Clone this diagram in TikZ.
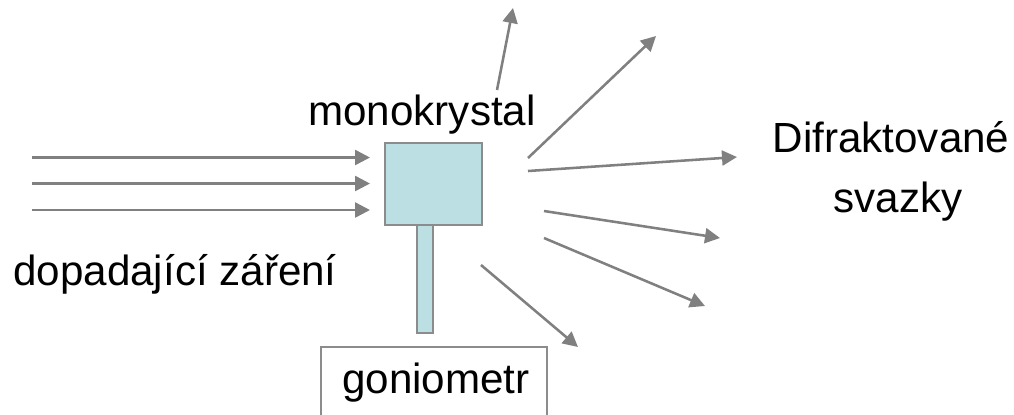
\documentclass[tikz,border=0pt]{standalone}
\usepackage{fontspec}
\setmainfont{Liberation Sans}
\usetikzlibrary{arrows.meta}
\definecolor{ray}{HTML}{808080}
\definecolor{frame}{HTML}{8C8C8C}
\definecolor{crystalfill}{HTML}{BBDFE2}
\tikzset{
  beam/.style={draw=ray, line width=1.45pt, -{Triangle[length=0.3cm,width=0.3cm]}},
  partbox/.style={draw=frame, line width=1.6pt, fill=crystalfill, inner sep=0pt},
  label/.style={font=\fontsize{24}{28}\selectfont, text=black, inner sep=0pt, anchor=base}
}
\begin{document}
\begin{tikzpicture}[x=0.02cm, y=-0.02cm]
\useasboundingbox (0,0) rectangle (1014,414);

% crystal on its holder
\node[partbox, minimum width=1.94cm, minimum height=1.64cm] (crystal) at (433.5,184) {};
\node[partbox, minimum width=0.32cm, minimum height=2.16cm] (stem) at (425,279) {};

% goniometer frame, open at the bottom
\node[label] (gonio) at (436,393) {goniometr};
\coordinate (gL) at (321,420);
\coordinate (gR) at (547,420);
\draw[frame, line width=1.6pt] (gL) |- (547,347) -- (gR);

% labels (placed by their baselines)
\node[label] (mono) at (422,125) {monokrystal};
\node[label] (incoming) at (175,285) {dopadající záření};
\node[label] (diff1) at (891,152) {Difraktované};
\node[label] (diff2) at (898,212) {svazky};

% incident beam
\coordinate (i1s) at (32,157.5);  \coordinate (i1e) at (370,157.5);
\coordinate (i2s) at (32,183.5);  \coordinate (i2e) at (370,183.5);
\coordinate (i3s) at (32,210);    \coordinate (i3e) at (370,210);
\draw[beam] (i1s) -- (i1e);
\draw[beam] (i2s) -- (i2e);
\draw[beam] (i3s) -- (i3e);

% diffracted beams
\coordinate (d1s) at (497,90);   \coordinate (d1e) at (513,8);
\coordinate (d2s) at (528,158);  \coordinate (d2e) at (656,36);
\coordinate (d3s) at (528,171);  \coordinate (d3e) at (737,157);
\coordinate (d4s) at (544,211);  \coordinate (d4e) at (720,238);
\coordinate (d5s) at (544,238);  \coordinate (d5e) at (705,306);
\coordinate (d6s) at (481,265);  \coordinate (d6e) at (578,347);
\foreach \k in {1,...,6} \draw[beam] (d\k s) -- (d\k e);
\end{tikzpicture}
\end{document}
